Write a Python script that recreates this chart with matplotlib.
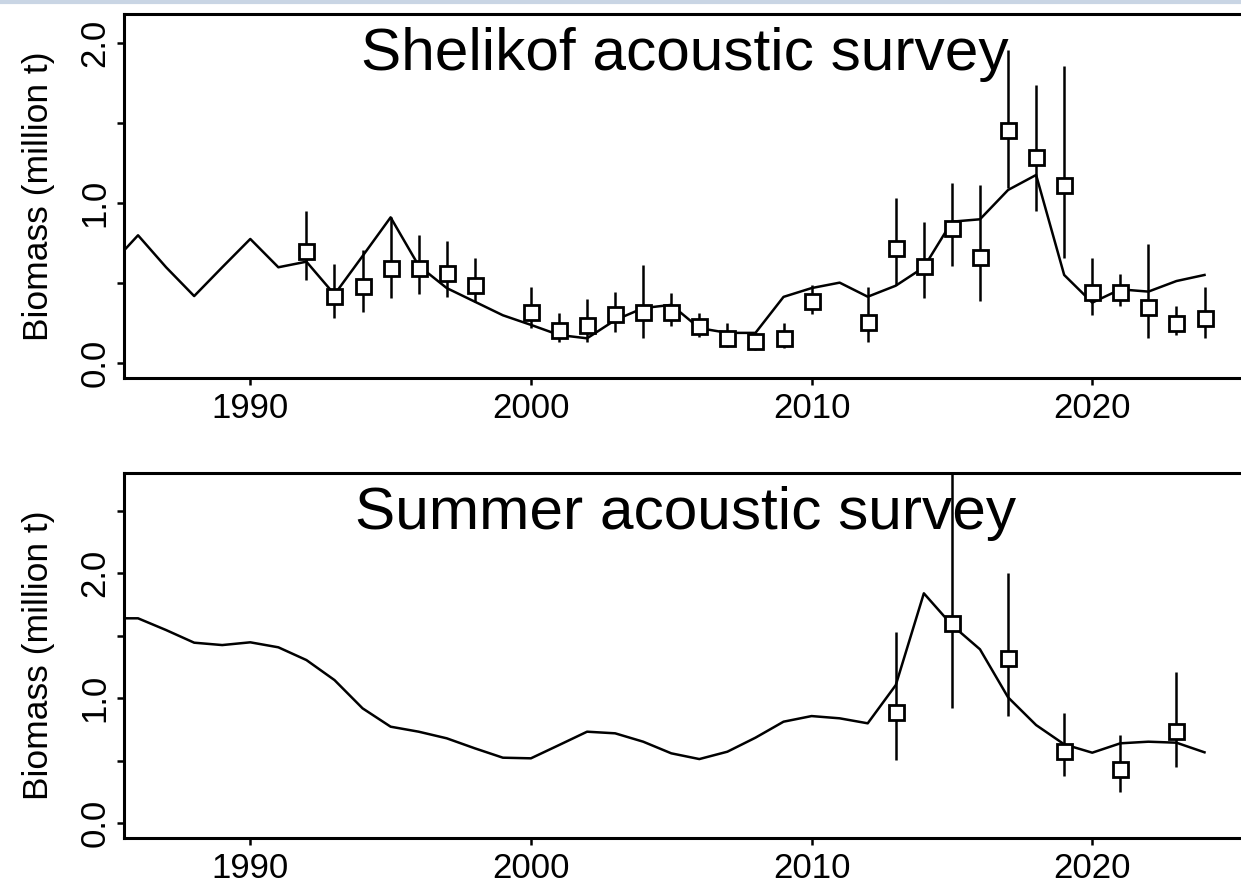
import matplotlib
matplotlib.use('Agg')
import matplotlib.pyplot as plt
from matplotlib.lines import Line2D

plt.rcParams['font.family'] = ['Liberation Sans', 'DejaVu Sans']

# model fit, Shelikof (million t)
shel_years = list(range(1985, 2025))
shel_fit = [0.61, 0.80, 0.60, 0.42, 0.60, 0.777, 0.60, 0.635, 0.43, 0.67,
            0.912, 0.61, 0.47, 0.385, 0.30, 0.24, 0.177, 0.156, 0.27, 0.345,
            0.365, 0.22, 0.19, 0.19, 0.415, 0.47, 0.504, 0.416, 0.485, 0.60,
            0.885, 0.90, 1.083, 1.177, 0.552, 0.379, 0.462, 0.448, 0.514, 0.552]

# survey estimates with intervals, Shelikof
shel_obs_years = [1992, 1993, 1994, 1995, 1996, 1997, 1998, 2000, 2001, 2002,
                  2003, 2004, 2005, 2006, 2007, 2008, 2009, 2010, 2012, 2013,
                  2014, 2015, 2016, 2017, 2018, 2019, 2020, 2021, 2022, 2023, 2024]
shel_obs = [0.704, 0.423, 0.483, 0.594, 0.594, 0.562, 0.489, 0.323, 0.208, 0.239,
            0.306, 0.319, 0.323, 0.233, 0.160, 0.139, 0.160, 0.389, 0.260, 0.719,
            0.608, 0.844, 0.666, 1.458, 1.290, 1.114, 0.448, 0.448, 0.354, 0.254, 0.281]
shel_lo = [0.520, 0.285, 0.323, 0.406, 0.430, 0.416, 0.385, 0.219, 0.135, 0.135,
           0.198, 0.156, 0.235, 0.166, 0.104, 0.083, 0.094, 0.306, 0.135, 0.489,
           0.410, 0.610, 0.389, 1.094, 0.952, 0.660, 0.302, 0.358, 0.156, 0.177, 0.160]
shel_hi = [0.952, 0.619, 0.708, 0.912, 0.800, 0.766, 0.660, 0.475, 0.313, 0.402,
           0.444, 0.614, 0.438, 0.313, 0.254, 0.198, 0.250, 0.489, 0.479, 1.035,
           0.885, 1.129, 1.114, 1.958, 1.740, 1.860, 0.656, 0.558, 0.744, 0.358, 0.479]

# model fit, summer survey
summ_years = list(range(1985, 2025))
summ_fit = [1.64, 1.64, 1.546, 1.445, 1.426, 1.448, 1.408, 1.306, 1.146, 0.92,
            0.773, 0.733, 0.68, 0.60, 0.525, 0.52, 0.626, 0.733, 0.72, 0.653,
            0.56, 0.514, 0.573, 0.685, 0.813, 0.858, 0.84, 0.80, 1.106, 1.84,
            1.586, 1.392, 1.008, 0.786, 0.632, 0.565, 0.64, 0.653, 0.645, 0.568]

summ_obs_years = [2013, 2015, 2017, 2019, 2021, 2023]
summ_obs = [0.888, 1.605, 1.32, 0.578, 0.432, 0.741]
summ_lo = [0.506, 0.92, 0.858, 0.378, 0.253, 0.453]
summ_hi = [1.533, 3.2, 2.0, 0.88, 0.706, 1.208]

panels = [
    ('Shelikof acoustic survey', shel_years, shel_fit, shel_obs_years, shel_obs, shel_lo, shel_hi,
     (-0.092, 2.183), [0, 0.5, 1.0, 1.5, 2.0], ['0.0', '', '1.0', '', '2.0']),
    ('Summer acoustic survey', summ_years, summ_fit, summ_obs_years, summ_obs, summ_lo, summ_hi,
     (-0.115, 2.80), [0, 0.5, 1.0, 1.5, 2.0, 2.5], ['0.0', '', '1.0', '', '2.0', '']),
]

W, H = 1241, 886
fig = plt.figure(figsize=(W / 100, H / 100), dpi=100)

# axes boxes in pixels: left, top, right, bottom
boxes = [(124, 14, 1246.6, 378), (124, 473.3, 1246.6, 837.7)]

for (title, yrs, fit, oyrs, obs, lo, hi, ylim, yt, ytl), (l, t, r, b) in zip(panels, boxes):
    ax = fig.add_axes([l / W, 1 - b / H, (r - l) / W, (b - t) / H])
    ax.plot(yrs, fit, color='black', lw=1.8, zorder=2)
    ax.vlines(oyrs, lo, hi, color='black', lw=1.8, zorder=3)
    ax.plot(oyrs, obs, 's', ms=10.8, mfc='white', mec='black', mew=2.0, zorder=4)
    ax.set_xlim(1985.5, 2025.5)
    ax.set_ylim(*ylim)
    ax.set_xticks([1990, 2000, 2010, 2020])
    ax.set_yticks(yt)
    ax.set_yticklabels(ytl, rotation=90, va='center')
    ax.tick_params(axis='both', direction='out', length=5, width=1.8, labelsize=25, colors='black')
    ax.tick_params(axis='x', pad=5)
    ax.tick_params(axis='y', pad=4)
    for s in ax.spines.values():
        s.set_linewidth(2.2)
    ax.text(0.5, 0.847, title, transform=ax.transAxes, ha='center', va='baseline', fontsize=43.5)
    ax.text(-0.0766, 0.5, 'Biomass (million t)', transform=ax.transAxes, rotation=90,
            ha='center', va='center', fontsize=25.5)

# light strip along the top edge of the screenshot
fig.add_artist(Line2D([0, 1], [1 - 2 / H, 1 - 2 / H], transform=fig.transFigure,
                      color='#c9d5e4', lw=3))

fig.savefig('out.png', dpi=100)
